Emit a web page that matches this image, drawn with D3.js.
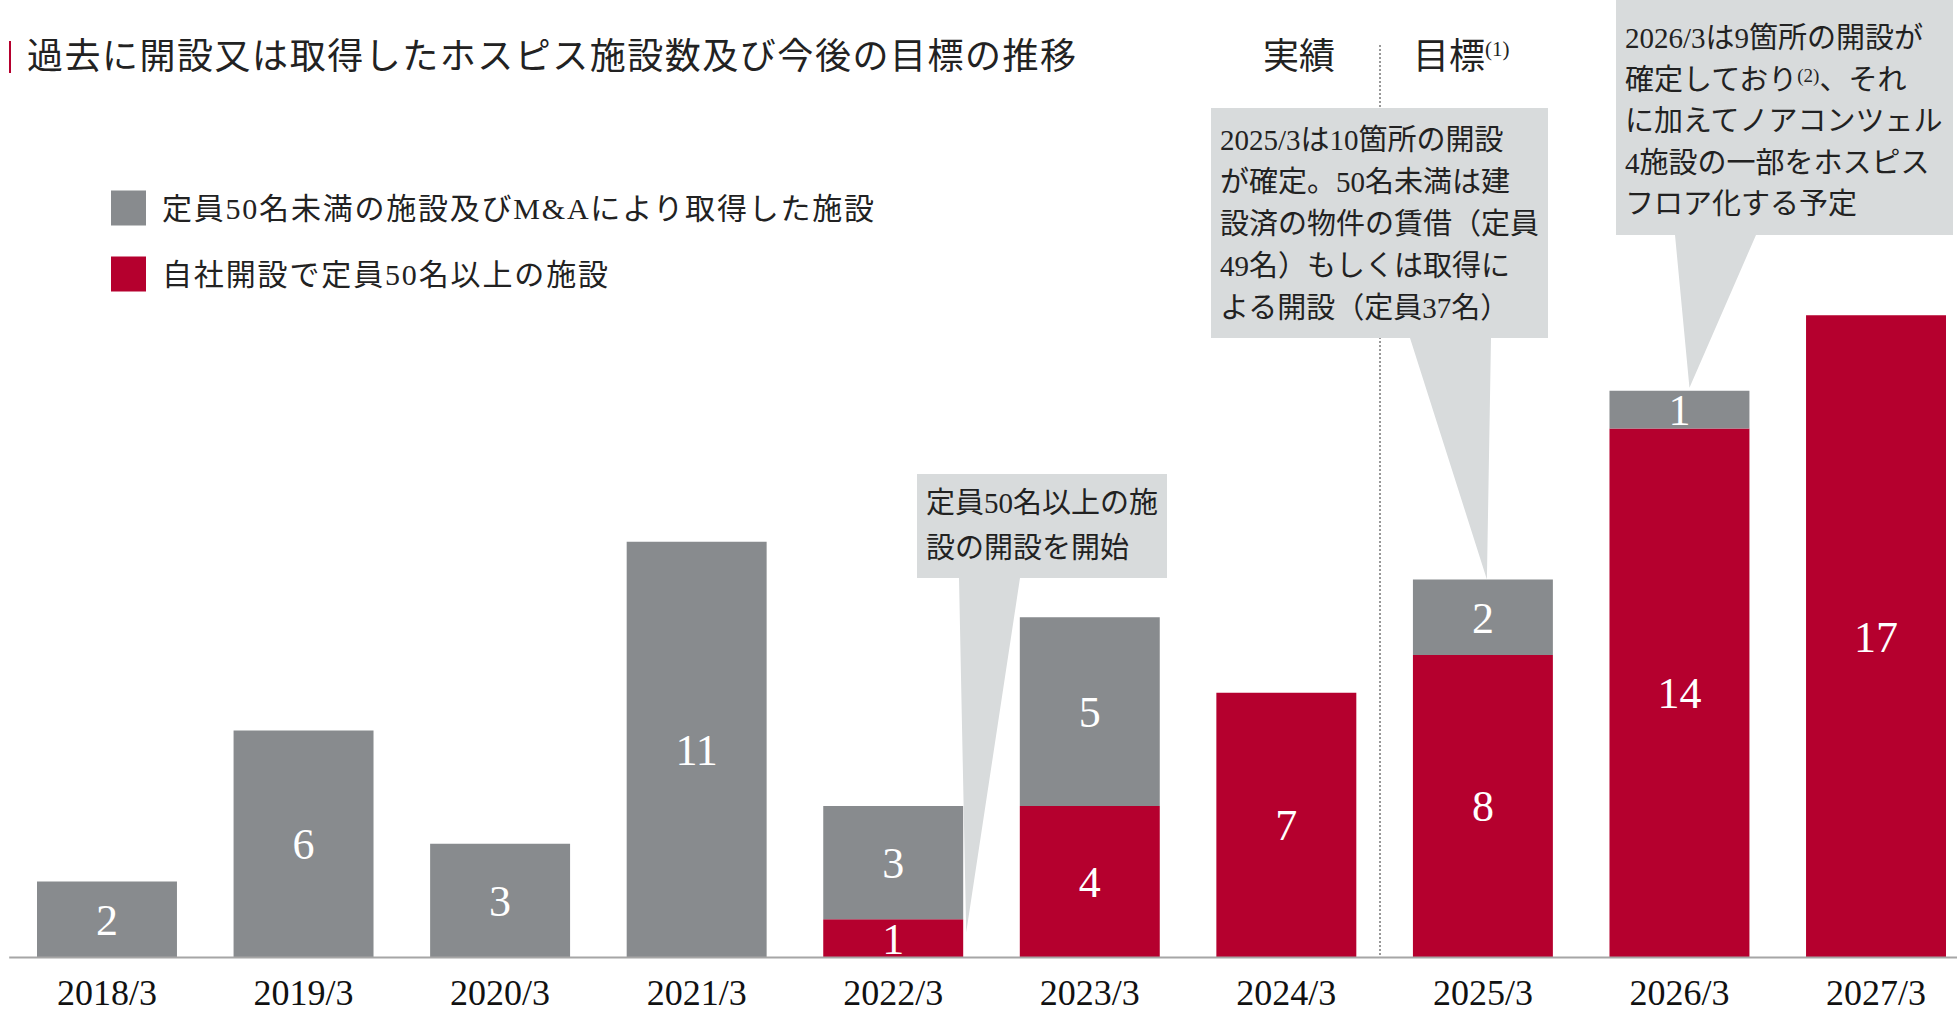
<!DOCTYPE html>
<html>
<head>
<meta charset="utf-8">
<script src="https://cdn.jsdelivr.net/npm/d3@7"></script>
<style>
  body { margin: 0; background: #fff; }
  svg text { font-family: "Liberation Serif", "Noto Sans CJK JP", serif; }
</style>
</head>
<body>
<script>
// data
var periods = ["2018/3", "2019/3", "2020/3", "2021/3", "2022/3", "2023/3", "2024/3", "2025/3", "2026/3", "2027/3"];
var under50 = [2, 6, 3, 11, 3, 5, 0, 2, 1, 0];   // 定員50名未満の施設及びM&A
var own50 = [0, 0, 0, 0, 1, 4, 7, 8, 14, 17];    // 自社開設で定員50名以上
var legendLabels = ["定員50名未満の施設及びM&Aにより取得した施設", "自社開設で定員50名以上の施設"];
var note1 = ["定員50名以上の施", "設の開設を開始"];
var note2 = ["2025/3は10箇所の開設", "が確定。50名未満は建", "設済の物件の賃借（定員", "49名）もしくは取得に", "よる開設（定員37名）"];
var note3 = ["2026/3は9箇所の開設が", "確定しており|(2)|、それ", "に加えてノアコンツェル", "4施設の一部をホスピス", "フロア化する予定"];

var W = 1957, H = 1013;
var GRAY = "#888b8e", RED = "#b5002e", BOX = "#d8dbdc";

var svg = d3.select("body").append("svg")
    .attr("width", W)
    .attr("height", H);

var x = d3.scaleBand()
    .domain(periods)
    .range([8.7, 1974.3])
    .paddingInner(0.288)
    .paddingOuter(0.144);

var y = d3.scaleLinear()
    .domain([0, 17])
    .range([957, 957 - 17 * 37.75]);

var rows = periods.map(function(p, i) {
    return {period: p, own50: own50[i], under50: under50[i]};
});
var stack = d3.stack().keys(["own50", "under50"]);
var series = stack(rows);
var colors = {own50: RED, under50: GRAY};

// dotted divider between 実績 and 目標
svg.append("line")
    .attr("x1", 1380).attr("x2", 1380)
    .attr("y1", 45).attr("y2", y(0))
    .attr("stroke", "#777")
    .attr("stroke-width", 1.5)
    .attr("stroke-dasharray", "2,2");

// bars
var groups = svg.selectAll("g.series")
    .data(series)
    .enter()
    .append("g")
    .attr("class", "series")
    .attr("fill", function(d) { return colors[d.key]; });

groups.selectAll("rect")
    .data(function(d) { return d; })
    .enter()
    .append("rect")
    .attr("x", function(d) { return x(d.data.period); })
    .attr("y", function(d) { return y(d[1]); })
    .attr("width", x.bandwidth())
    .attr("height", function(d) { return y(d[0]) - y(d[1]); });

groups.selectAll("text")
    .data(function(d) { return d.filter(function(v) { return v[1] - v[0] > 0; }); })
    .enter()
    .append("text")
    .attr("x", function(d) { return x(d.data.period) + x.bandwidth() / 2; })
    .attr("y", function(d) { return (y(d[0]) + y(d[1])) / 2; })
    .attr("dy", "0.35em")
    .attr("text-anchor", "middle")
    .attr("fill", "#fff")
    .attr("font-size", 44)
    .text(function(d) { return d[1] - d[0]; });

// axis
var axis = svg.append("g")
    .attr("transform", "translate(0," + y(0) + ")")
    .call(d3.axisBottom(x).tickSize(0).tickSizeOuter(0).tickPadding(22));
axis.select(".domain").attr("stroke", "#a6a6a6").attr("stroke-width", 2);
axis.selectAll("text")
    .attr("font-size", 36)
    .attr("fill", "#111")
    .style("font-family", "'Liberation Serif', serif");

// title
svg.append("rect")
    .attr("x", 9).attr("y", 41)
    .attr("width", 2).attr("height", 32)
    .attr("fill", RED);
svg.append("text")
    .attr("x", 27).attr("y", 69)
    .attr("font-size", 36)
    .attr("fill", "#222")
    .attr("textLength", 1049)
    .attr("lengthAdjust", "spacing")
    .text("過去に開設又は取得したホスピス施設数及び今後の目標の推移");

// 実績 / 目標
svg.append("text")
    .attr("x", 1299).attr("y", 69)
    .attr("text-anchor", "middle")
    .attr("font-size", 36)
    .attr("fill", "#222")
    .text("実績");
var goal = svg.append("text")
    .attr("x", 1413).attr("y", 69)
    .attr("font-size", 36)
    .attr("fill", "#222");
goal.append("tspan").text("目標");
goal.append("tspan")
    .attr("font-size", 21)
    .attr("dy", -13)
    .text("(1)");

// legend
var legend = svg.selectAll("g.legend")
    .data(legendLabels)
    .enter()
    .append("g")
    .attr("class", "legend")
    .attr("transform", function(d, i) { return "translate(111," + (208 + i * 66) + ")"; });
legend.append("rect")
    .attr("x", 0).attr("y", -17.5)
    .attr("width", 35).attr("height", 35)
    .attr("fill", function(d, i) { return i == 0 ? GRAY : RED; });
legend.append("text")
    .attr("x", 51).attr("y", 11)
    .attr("font-size", 30)
    .attr("fill", "#222")
    .attr("textLength", function(d, i) { return i == 0 ? 712 : 446; })
    .attr("lengthAdjust", "spacing")
    .text(function(d) { return d; });

// callouts
function callout(box, tail, tip, lines, firstY, lineH) {
    var p = d3.path();
    p.moveTo(box[0], box[1]);
    p.lineTo(box[2], box[1]);
    p.lineTo(box[2], box[3]);
    p.lineTo(tail[1], box[3]);
    p.lineTo(tip[0], tip[1]);
    p.lineTo(tail[0], box[3]);
    p.lineTo(box[0], box[3]);
    p.closePath();
    svg.append("path").attr("d", p.toString()).attr("fill", BOX);

    lines.forEach(function(line, i) {
        var t = svg.append("text")
            .attr("x", box[0] + 9)
            .attr("y", firstY + i * lineH)
            .attr("dy", "0.36em")
            .attr("font-size", 29)
            .attr("fill", "#222");
        line.split("|").forEach(function(part, j) {
            var s = t.append("tspan").text(part);
            if (j == 1) s.attr("font-size", 19).attr("baseline-shift", "40%");
        });
    });
}

var i22 = periods.indexOf("2022/3"), i25 = periods.indexOf("2025/3"), i26 = periods.indexOf("2026/3");
callout([917, 474, 1167, 578], [959, 1020],
    [x(periods[i22]) + x.bandwidth() + 3, y(own50[i22] * 0.65)], note1, 503, 45);
callout([1211, 108, 1548, 338], [1410, 1491],
    [x(periods[i25]) + x.bandwidth() / 2 + 4, y(own50[i25] + under50[i25])], note2, 140, 41.8);
callout([1616, 0, 1953, 235], [1675, 1756],
    [x(periods[i26]) + x.bandwidth() / 2 + 10, y(own50[i26] + under50[i26]) - 3], note3, 38, 41.5);
</script>
</body>
</html>
